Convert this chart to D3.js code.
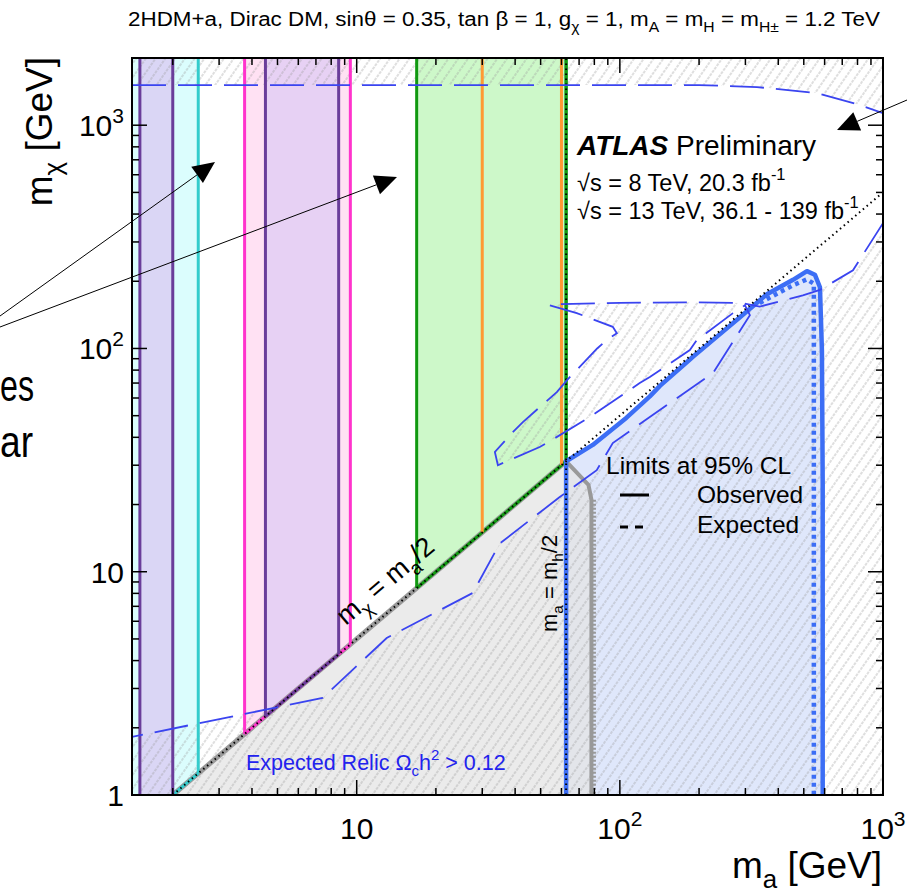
<!DOCTYPE html>
<html>
<head>
<meta charset="utf-8">
<script src="https://cdn.jsdelivr.net/npm/d3@7"></script>
<style>
body { margin: 0; background: #fff; }
svg { display: block; font-family: "Liberation Sans", Arial, sans-serif; }
</style>
</head>
<body>
<svg id="chart" width="907" height="895"></svg>
<script>
// axis ranges (GeV)
var xDomain = [1.4, 1000];
var yDomain = [1, 2000];

// vertical exclusion bands in m_a
var bandNames = ["cyan", "lavender", "pink", "violet", "green"];
var bandLow = [1.3, 1.5, 3.75, 4.5, 16.9];
var bandHigh = [2.5, 2.0, 9.46, 8.54, 62.5];
var orangeMa = [30, 60];
var mhHalf = 62.5;

// observed limit (thick solid blue)
var obsMa = [62.5, 62.5, 78.9, 106, 130, 142, 180, 190, 234, 286, 362, 455, 514, 551, 576, 586, 590, 590];
var obsMchi = [1, 31.25, 37, 49, 61, 68, 87, 92, 113, 138, 175, 203, 222, 214, 188, 98, 25, 1];

// second limit (thick dotted blue)
var dotMa = [340, 455, 514, 546, 546];
var dotMchi = [160, 192, 204, 195, 1];

// grey region boundary
var grayMa = [62.5, 76, 78, 78];
var grayMchi = [31.25, 24.5, 21, 1];

// expected relic contours (thin dashed blue)
var relicTopMa = [1.4, 200, 332, 561, 817, 1000];
var relicTopMchi = [1513, 1513, 1482, 1393, 1231, 1133];
var relicMa = [1000, 769, 576, 496, 340, 290, 180, 100, 60, 54, 68.6, 94, 97.4, 89, 82, 63, 57.6, 42.8, 39.2, 33.5, 34.4,
  49.6, 55.1, 76.9, 119, 130, 184.5, 196, 269, 299, 312, 226, 155, 94, 81.7, 59.1, 35, 27.6, 13, 7.42, 1.4];
var relicMchi = [364, 224, 183, 173, 154, 160, 161, 160, 158, 156, 144, 125, 117, 109, 100, 72.2, 63.8, 46.8, 42.2, 34.4, 30.0,
  36.2, 38.9, 49.3, 70, 74.5, 98.4, 109, 144, 156, 141, 77.6, 57, 37.7, 28.5, 21.6, 13.4, 8.03, 5.05, 2.72, 1.82];

// tick values
var xMajor = [10, 100, 1000];
var yMajor = [1, 10, 100, 1000];

var bandStyle = {
  cyan: { fill: "#dbfdfd", stroke: "#33cccc", left: false },
  lavender: { fill: "#dad6f5", stroke: "#6a3d9a", left: true },
  pink: { fill: "#ffe1f3", stroke: "#ff33cc", left: true },
  violet: { fill: "#e7d1f4", stroke: "#6a3d9a", left: true },
  green: { fill: "#cdf8c9", stroke: "#109910", left: true }
};
var blue = "#3c6ef5";
var relicBlue = "#3a44f0";

var L = 132, T = 58, R = 883, B = 795;
var svg = d3.select("#chart");
var x = d3.scaleLog().domain(xDomain).range([L, R]);
var y = d3.scaleLog().domain(yDomain).range([B, T]);
var zip = function (a, b) { return a.map(function (v, i) { return [v, b[i]]; }); };
var line = d3.line().x(function (d) { return x(d[0]); }).y(function (d) { return y(d[1]); });

var defs = svg.append("defs");
defs.append("clipPath").attr("id", "plotclip")
  .append("rect").attr("x", L).attr("y", T).attr("width", R - L).attr("height", B - T);
defs.append("pattern").attr("id", "hatch")
  .attr("patternUnits", "userSpaceOnUse").attr("width", 8).attr("height", 8)
  .attr("patternTransform", "rotate(35)")
  .append("line").attr("x1", 1).attr("y1", 0).attr("x2", 1).attr("y2", 8)
  .attr("stroke", "#999").attr("stroke-width", 0.65).attr("stroke-dasharray", "3,1");

var plot = svg.append("g").attr("clip-path", "url(#plotclip)");

// diagonal m_chi = m_a/2 (clipped at m_chi = 1)
function diag(m) { return Math.max(m / 2, 1); }
function bandPoly(lo, hi) {
  var pts = [[lo, yDomain[1]], [lo, diag(lo)]];
  if (lo < 2 && hi > 2) pts.push([2, 1]);
  pts.push([hi, diag(hi)], [hi, yDomain[1]]);
  return pts;
}

// band fills
bandNames.forEach(function (n, i) {
  plot.append("path").attr("d", line(bandPoly(bandLow[i], bandHigh[i])) + "Z")
    .attr("fill", bandStyle[n].fill);
});

// observed region fill
plot.append("path").attr("d", line(zip(obsMa, obsMchi)) + "Z").attr("fill", "#dfe7fb");

// grey region below the diagonal
var grayPoly = [[2, 1], [mhHalf, mhHalf / 2]].concat(zip(grayMa, grayMchi).slice(1));
plot.append("path").attr("d", line(grayPoly) + "Z").attr("fill", "#e4e4e4").attr("opacity", 0.75);

// relic hatching
var topPoly = zip(relicTopMa, relicTopMchi).concat([[xDomain[1], yDomain[1]], [xDomain[0], yDomain[1]]]);
var lowPoly = zip(relicMa, relicMchi).concat([[xDomain[0], 1], [xDomain[1], 1]]);
[topPoly, lowPoly].forEach(function (p) {
  plot.append("path").attr("d", line(p) + "Z").attr("fill", "url(#hatch)").attr("fill-rule", "evenodd");
});

// grey diagonal under the band edges
plot.append("path").attr("d", line([[2, 1], [mhHalf, mhHalf / 2]]))
  .attr("fill", "none").attr("stroke", "#9a9a9a").attr("stroke-width", 5);

// band edges
bandNames.forEach(function (n, i) {
  var st = bandStyle[n], lo = bandLow[i], hi = bandHigh[i];
  var g = plot.append("g").attr("fill", "none").attr("stroke", st.stroke).attr("stroke-width", 3);
  if (st.left) g.append("path").attr("d", line([[lo, diag(lo)], [lo, yDomain[1]]]));
  g.append("path").attr("d", line([[hi, diag(hi)], [hi, yDomain[1]]]));
  if (hi > 2) g.append("path").attr("d", line([[Math.max(lo, 2), diag(Math.max(lo, 2))], [hi, diag(hi)]]));
});
orangeMa.forEach(function (m) {
  plot.append("path").attr("d", line([[m, m / 2], [m, yDomain[1]]]))
    .attr("stroke", "#ff9933").attr("stroke-width", 3);
});
// green edge drawn again on top of the orange line
plot.append("path").attr("d", line([[mhHalf, mhHalf / 2], [mhHalf, yDomain[1]]]))
  .attr("stroke", bandStyle.green.stroke).attr("stroke-width", 3);

// grey boundary line with hatch side
plot.append("path").attr("d", line(zip(grayMa, grayMchi)))
  .attr("fill", "none").attr("stroke", "#999").attr("stroke-width", 4);
plot.append("path").attr("d", line(zip(grayMa, grayMchi).slice(2)))
  .attr("transform", "translate(3,0)")
  .attr("fill", "none").attr("stroke", "#999").attr("stroke-width", 3).attr("stroke-dasharray", "2,2");

// observed and dotted limits
plot.append("path").attr("d", line(zip(obsMa, obsMchi)))
  .attr("fill", "none").attr("stroke", blue).attr("stroke-width", 4.5).attr("stroke-linejoin", "round");
plot.append("path").attr("d", line(zip(dotMa, dotMchi)))
  .attr("fill", "none").attr("stroke", blue).attr("stroke-width", 4.5).attr("stroke-dasharray", "4,4");

// kinematic lines
plot.append("path").attr("d", line([[2, 1], [1000, 500]]))
  .attr("fill", "none").attr("stroke", "#000").attr("stroke-width", 2).attr("stroke-dasharray", "1.5,3.5");
plot.append("path").attr("d", line([[mhHalf, 1], [mhHalf, yDomain[1]]]))
  .attr("fill", "none").attr("stroke", "#000").attr("stroke-width", 2).attr("stroke-dasharray", "1.5,3.5");

// relic contours
[zip(relicTopMa, relicTopMchi), zip(relicMa, relicMchi)].forEach(function (p) {
  plot.append("path").attr("d", line(p))
    .attr("fill", "none").attr("stroke", relicBlue).attr("stroke-width", 1.8).attr("stroke-dasharray", "34,12");
});

// ---- axes ----
function minorTicks(dom) {
  var t = [];
  for (var e = 0; e <= 3; e++) for (var k = 2; k <= 9; k++) {
    var v = k * Math.pow(10, e);
    if (v > dom[0] && v < dom[1]) t.push(v);
  }
  return t;
}
var axG = svg.append("g").attr("stroke", "#000").attr("stroke-width", 1.5);
function ticks(vals, len) {
  vals.forEach(function (v) {
    axG.append("line").attr("x1", x(v)).attr("x2", x(v)).attr("y1", B).attr("y2", B - len);
    axG.append("line").attr("x1", x(v)).attr("x2", x(v)).attr("y1", T).attr("y2", T + len);
  });
}
function yticks(vals, len) {
  vals.forEach(function (v) {
    axG.append("line").attr("y1", y(v)).attr("y2", y(v)).attr("x1", L).attr("x2", L + len);
    axG.append("line").attr("y1", y(v)).attr("y2", y(v)).attr("x1", R).attr("x2", R - len);
  });
}
ticks(xMajor, 15); ticks(minorTicks(xDomain), 7);
yticks(yMajor, 15); yticks(minorTicks(yDomain), 7);
svg.append("rect").attr("x", L).attr("y", T).attr("width", R - L).attr("height", B - T)
  .attr("fill", "none").attr("stroke", "#000").attr("stroke-width", 2);

// rich text helper: parts = [[text, "sub"|"sup"|undefined], ...]
function rich(sel, parts, size) {
  var shift = 0;
  parts.forEach(function (p) {
    var ts = sel.append("tspan").text(p[0]);
    var target = p[1] === "sub" ? size * 0.28 : p[1] === "sup" ? -size * 0.45 : 0;
    if (target !== shift) { ts.attr("dy", target - shift); shift = target; }
    if (p[1]) ts.attr("font-size", size * 0.7);
  });
  return sel;
}
function powLabel(v) {
  if (v === 1) return [["1"]];
  if (v === 10) return [["10"]];
  return [["10"], [String(Math.round(Math.log10(v))), "sup"]];
}
xMajor.forEach(function (v) {
  rich(svg.append("text").attr("x", x(v)).attr("y", 839).attr("text-anchor", "middle")
    .attr("font-size", 30), powLabel(v), 30);
});
yMajor.forEach(function (v) {
  rich(svg.append("text").attr("x", 124).attr("y", y(v) + 11).attr("text-anchor", "end")
    .attr("font-size", 30), powLabel(v), 30);
});

rich(svg.append("text").attr("x", 882).attr("y", 878).attr("text-anchor", "end").attr("font-size", 37),
  [["m"], ["a", "sub"], [" [GeV]"]], 37);
rich(svg.append("text").attr("transform", "translate(52,57) rotate(-90)").attr("text-anchor", "end")
  .attr("font-size", 37), [["m"], ["χ", "sub"], [" [GeV]"]], 37);

// title
rich(svg.append("text").attr("x", 128).attr("y", 26).attr("font-size", 20)
  .attr("textLength", 752).attr("lengthAdjust", "spacingAndGlyphs"),
  [["2HDM+a, Dirac DM, sinθ = 0.35, tan β = 1, g"], ["χ", "sub"], [" = 1, m"], ["A", "sub"],
   [" = m"], ["H", "sub"], [" = m"], ["H±", "sub"], [" = 1.2 TeV"]], 20);

// ATLAS label
var atl = svg.append("text").attr("x", 577).attr("y", 155).attr("font-size", 28);
atl.append("tspan").attr("font-weight", "bold").attr("font-style", "italic").text("ATLAS");
atl.append("tspan").text(" Preliminary");
rich(svg.append("text").attr("x", 577).attr("y", 191).attr("font-size", 23.5),
  [["√s = 8 TeV, 20.3 fb"], ["-1", "sup"]], 23.5);
rich(svg.append("text").attr("x", 577).attr("y", 219).attr("font-size", 23.5),
  [["√s = 13 TeV, 36.1 - 139 fb"], ["-1", "sup"]], 23.5);

// legend
svg.append("text").attr("x", 606).attr("y", 474).attr("font-size", 24.5).text("Limits at 95% CL");
svg.append("line").attr("x1", 620).attr("x2", 649).attr("y1", 495).attr("y2", 495)
  .attr("stroke", "#000").attr("stroke-width", 3);
svg.append("line").attr("x1", 620).attr("x2", 644).attr("y1", 527).attr("y2", 527)
  .attr("stroke", "#000").attr("stroke-width", 3).attr("stroke-dasharray", "8,7");
svg.append("text").attr("x", 697).attr("y", 503).attr("font-size", 24.5).text("Observed");
svg.append("text").attr("x", 697).attr("y", 533).attr("font-size", 24.5).text("Expected");

// relic label
rich(svg.append("text").attr("x", 246).attr("y", 770).attr("font-size", 21.5).attr("fill", "#2222ee"),
  [["Expected Relic Ω"], ["c", "sub"], ["h"], ["2", "sup"], [" > 0.12"]], 21.5);

// line labels
var ang = -Math.atan2(y(1) - y(10), x(20) - x(2)) * 180 / Math.PI;
rich(svg.append("text").attr("transform", "translate(" + x(10) + "," + y(5) + ") rotate(" + ang + ")")
  .attr("x", 0).attr("y", -17).attr("font-size", 27),
  [["m"], ["χ", "sub"], [" = m"], ["a", "sub"], ["/2"]], 27);
rich(svg.append("text").attr("transform", "translate(" + (x(mhHalf) - 9) + ",632) rotate(-90)")
  .attr("font-size", 22), [["m"], ["a", "sub"], [" = m"], ["h", "sub"], ["/2"]], 22);

// annotation arrows coming from outside the crop
var arrowFrom = [[0, 316], [0, 327], [907, 100]];
var arrowTo = [[215, 162], [397, 177], [837, 130]];
arrowFrom.forEach(function (f, i) {
  var t = arrowTo[i];
  var dx = t[0] - f[0], dy = t[1] - f[1], len = Math.sqrt(dx * dx + dy * dy);
  var ux = dx / len, uy = dy / len, hl = 22, hw = 10;
  var bx = t[0] - ux * hl, by = t[1] - uy * hl;
  svg.append("line").attr("x1", f[0]).attr("y1", f[1]).attr("x2", bx).attr("y2", by)
    .attr("stroke", "#000").attr("stroke-width", 1);
  svg.append("path")
    .attr("d", "M" + t[0] + "," + t[1] + "L" + (bx - uy * hw) + "," + (by + ux * hw) + "L" + (bx + uy * hw) + "," + (by - ux * hw) + "Z")
    .attr("fill", "#000");
});

// words of a neighbouring panel, cut at the left edge
svg.append("text").attr("x", 0).attr("y", 401).attr("font-size", 44)
  .attr("textLength", 34).attr("lengthAdjust", "spacingAndGlyphs").text("es");
svg.append("text").attr("x", 0).attr("y", 457).attr("font-size", 44)
  .attr("textLength", 33).attr("lengthAdjust", "spacingAndGlyphs").text("ar");
</script>
</body>
</html>
